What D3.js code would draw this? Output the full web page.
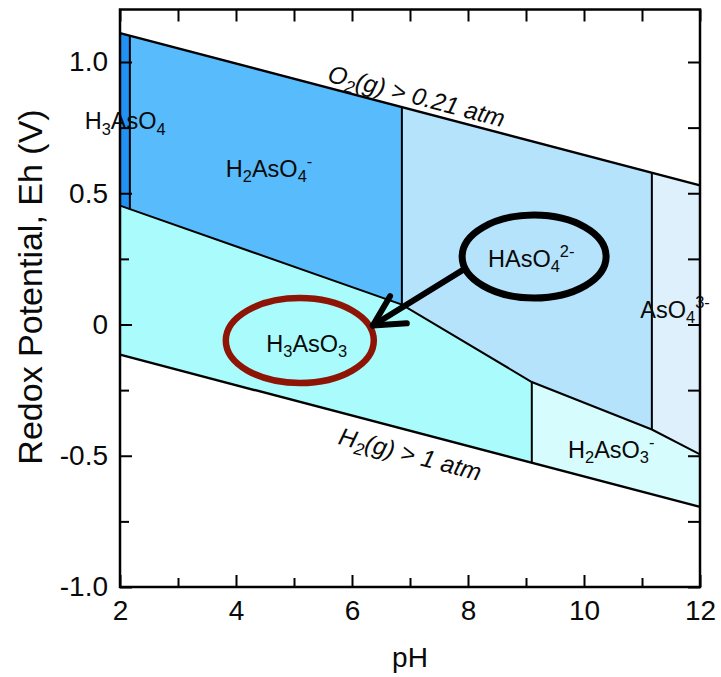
<!DOCTYPE html>
<html>
<head>
<meta charset="utf-8">
<script src="https://cdn.jsdelivr.net/npm/d3@7"></script>
<style>
  body { margin: 0; background: #fff; }
  svg { display: block; font-family: "Liberation Sans", Arial, Helvetica, sans-serif; }
</style>
</head>
<body>
<svg id="chart" width="721" height="677"></svg>
<script>
// Eh-pH diagram for arsenic species

// water stability limits, [pH, Eh]
var o2Line = [[2, 1.11], [12, 0.53]];
var h2Line = [[2, -0.115], [12, -0.695]];

// As(V) / As(III) boundary, [pH, Eh]
var redoxBoundary = [[2, 0.453], [6.86, 0.076], [9.10, -0.219], [11.17, -0.400], [12, -0.495]];

// acid-base boundaries (pH)
var arsenateBreaks = [2.17, 6.86, 11.17];
var arseniteBreaks = [9.10];

var phTicks = [2, 4, 6, 8, 10, 12];
var phMinorTicks = [3, 5, 7, 9, 11];
var ehTicks = [-1.0, -0.5, 0, 0.5, 1.0];
var ehTickLabels = ["-1.0", "-0.5", "0", "0.5", "1.0"];
var ehMinorTicks = [-0.75, -0.25, 0.25, 0.75];

// species: name markup, label centre [pH, Eh baseline]
var species = [
  {name: "H_3AsO_4", ph: 2.09, eh: 0.743},
  {name: "H_2AsO_4^-", ph: 4.57, eh: 0.562},
  {name: "HAsO_4^2-", ph: 9.09, eh: 0.219},
  {name: "AsO_4^3-", ph: 11.57, eh: 0.025},
  {name: "H_3AsO_3", ph: 5.22, eh: -0.105},
  {name: "H_2AsO_3^-", ph: 10.47, eh: -0.509}
];

var regionColors = {
  "H3AsO4": "#2291f4",
  "H2AsO4-": "#58bcfc",
  "HAsO42-": "#b4e3fb",
  "AsO43-": "#def0fc",
  "H3AsO3": "#aafcfc",
  "H2AsO3-": "#d7fcfd"
};

// highlight annotations [pH, Eh]
var blackRing = {ph: 9.14, eh: 0.259};
var redRing = {ph: 5.10, eh: -0.061};
var arrowFrom = [7.90, 0.206];
var arrowTo = [6.36, -0.004];

var margin = {top: 9.5, right: 21, bottom: 90, left: 120};
var width = 721, height = 677;

var x = d3.scaleLinear().domain([2, 12]).range([margin.left, width - margin.right]);
var y = d3.scaleLinear().domain([-1.0, 1.2]).range([587, margin.top]);

var svg = d3.select("#chart");

// linear interpolation along a polyline of [pH, Eh]
function along(pts, ph) {
  for (var i = 0; i < pts.length - 1; i++) {
    var a = pts[i], b = pts[i + 1];
    if (ph >= a[0] && ph <= b[0]) {
      return a[1] + (b[1] - a[1]) * (ph - a[0]) / (b[0] - a[0]);
    }
  }
  return pts[pts.length - 1][1];
}

function boundarySection(p0, p1) {
  var pts = [[p0, along(redoxBoundary, p0)]];
  redoxBoundary.forEach(function(d) { if (d[0] > p0 && d[0] < p1) pts.push(d); });
  pts.push([p1, along(redoxBoundary, p1)]);
  return pts;
}

// polygon for an As(V) region (between O2 line and redox boundary)
function upperRegion(p0, p1) {
  var top = [[p0, along(o2Line, p0)], [p1, along(o2Line, p1)]];
  return top.concat(boundarySection(p0, p1).reverse());
}
// polygon for an As(III) region (between redox boundary and H2 line)
function lowerRegion(p0, p1) {
  var bottom = [[p1, along(h2Line, p1)], [p0, along(h2Line, p0)]];
  return boundarySection(p0, p1).concat(bottom);
}

var regions = [
  {key: "H3AsO4", pts: upperRegion(2, arsenateBreaks[0])},
  {key: "H2AsO4-", pts: upperRegion(arsenateBreaks[0], arsenateBreaks[1])},
  {key: "HAsO42-", pts: upperRegion(arsenateBreaks[1], arsenateBreaks[2])},
  {key: "AsO43-", pts: upperRegion(arsenateBreaks[2], 12)},
  {key: "H3AsO3", pts: lowerRegion(2, arseniteBreaks[0])},
  {key: "H2AsO3-", pts: lowerRegion(arseniteBreaks[0], 12)}
];

var line = d3.line().x(function(d) { return x(d[0]); }).y(function(d) { return y(d[1]); });

svg.append("g").selectAll("path")
  .data(regions)
  .enter().append("path")
  .attr("d", function(d) { return line(d.pts) + "Z"; })
  .attr("fill", function(d) { return regionColors[d.key]; })
  .attr("stroke", "none");

// boundary lines
var lines = svg.append("g").attr("fill", "none").attr("stroke", "#000").attr("stroke-width", 2);
lines.append("path").attr("d", line(o2Line)).attr("stroke-width", 2.4);
lines.append("path").attr("d", line(h2Line)).attr("stroke-width", 2.4);
lines.append("path").attr("d", line(redoxBoundary));
arsenateBreaks.forEach(function(p) {
  lines.append("path").attr("d", line([[p, along(o2Line, p)], [p, along(redoxBoundary, p)]]));
});
arseniteBreaks.forEach(function(p) {
  lines.append("path").attr("d", line([[p, along(redoxBoundary, p)], [p, along(h2Line, p)]]));
});

// rich text with sub/superscripts: "_x" subscript, "^xx" superscript
function richText(sel, markup, fs) {
  var parts = markup.match(/_[^_^]|\^[^_^]+|[^_^]+/g);
  var offset = 0;
  parts.forEach(function(p) {
    var kind = p[0] === "_" ? "sub" : p[0] === "^" ? "sup" : "base";
    var txt = kind === "base" ? p : p.slice(1);
    var target = kind === "sub" ? 0.22 * fs : kind === "sup" ? -0.42 * fs : 0;
    sel.append("tspan")
      .attr("dy", target - offset)
      .style("font-size", (kind === "base" ? fs : fs * 0.7) + "px")
      .text(txt);
    offset = target;
  });
}

var labelG = svg.append("g").attr("fill", "#0a0a0a");
species.forEach(function(s) {
  var t = labelG.append("text")
    .attr("x", x(s.ph))
    .attr("y", y(s.eh))
    .attr("text-anchor", "middle");
  richText(t, s.name, 23.5);
});

// gas limit labels along lines
function lineLabel(pts, ph, offset, markup) {
  var ang = Math.atan2(y(pts[1][1]) - y(pts[0][1]), x(pts[1][0]) - x(pts[0][0]));
  var px = x(ph) - Math.sin(ang) * offset;
  var py = y(along(pts, ph)) + Math.cos(ang) * offset;
  var t = svg.append("text")
    .attr("transform", "translate(" + px + "," + py + ") rotate(" + (ang * 180 / Math.PI) + ")")
    .attr("text-anchor", "middle")
    .style("font-style", "italic")
    .attr("fill", "#0a0a0a");
  richText(t, markup, 24.5);
}
lineLabel(o2Line, 7.05, -6, "O_2(g) > 0.21 atm");
lineLabel(h2Line, 7.1, 31, "H_2(g) > 1 atm");

// annotations
svg.append("ellipse")
  .attr("cx", x(blackRing.ph)).attr("cy", y(blackRing.eh))
  .attr("rx", 72).attr("ry", 41.5)
  .attr("fill", "none").attr("stroke", "#000").attr("stroke-width", 7);

svg.append("ellipse")
  .attr("cx", x(redRing.ph)).attr("cy", y(redRing.eh))
  .attr("rx", 74).attr("ry", 42.5)
  .attr("fill", "none").attr("stroke", "#8e1506").attr("stroke-width", 6.5);

var ax = x(arrowFrom[0]), ay = y(arrowFrom[1]);
var bx = x(arrowTo[0]), by = y(arrowTo[1]);
var back = Math.atan2(ay - by, ax - bx);
var headLen = 34, headAng = 28 * Math.PI / 180;
var arrow = svg.append("g").attr("stroke", "#000").attr("stroke-width", 6)
  .attr("stroke-linecap", "round").attr("stroke-linejoin", "round").attr("fill", "none");
arrow.append("line").attr("x1", ax).attr("y1", ay).attr("x2", bx).attr("y2", by);
arrow.append("path").attr("d",
  "M" + (bx + headLen * Math.cos(back - headAng)) + "," + (by + headLen * Math.sin(back - headAng)) +
  "L" + bx + "," + by +
  "L" + (bx + headLen * Math.cos(back + headAng)) + "," + (by + headLen * Math.sin(back + headAng)));

// axes with inward ticks
function styleAxis(g) {
  g.select(".domain").remove();
  g.selectAll(".tick line").attr("stroke", "#000").attr("stroke-width", 2);
  g.selectAll(".tick text").attr("fill", "#0a0a0a").style("font-size", "28px")
    .style("font-family", "'Liberation Sans', Arial, sans-serif");
}

var yBottom = y(-1.0), yTop = y(1.2);
var xLeft = x(2), xRight = x(12);

svg.append("g").attr("transform", "translate(0," + yBottom + ")")
  .call(d3.axisBottom(x).tickValues(phTicks).tickSize(-12).tickPadding(13).tickFormat(d3.format("d")))
  .call(styleAxis);
svg.append("g").attr("transform", "translate(0," + yBottom + ")")
  .call(d3.axisBottom(x).tickValues(phMinorTicks).tickSize(-9).tickFormat(""))
  .call(styleAxis);
svg.append("g").attr("transform", "translate(0," + yTop + ")")
  .call(d3.axisTop(x).tickValues(phTicks.concat(phMinorTicks)).tickSize(-12).tickFormat(""))
  .call(styleAxis);

svg.append("g").attr("transform", "translate(" + xLeft + ",0)")
  .call(d3.axisLeft(y).tickValues(ehTicks).tickSize(-12).tickPadding(12)
    .tickFormat(function(d, i) { return ehTickLabels[i]; }))
  .call(styleAxis);
svg.append("g").attr("transform", "translate(" + xLeft + ",0)")
  .call(d3.axisLeft(y).tickValues(ehMinorTicks).tickSize(-9).tickFormat(""))
  .call(styleAxis);
svg.append("g").attr("transform", "translate(" + xRight + ",0)")
  .call(d3.axisRight(y).tickValues(ehTicks.concat(ehMinorTicks)).tickSize(-12).tickFormat(""))
  .call(styleAxis);

// frame
svg.append("rect")
  .attr("x", xLeft).attr("y", yTop)
  .attr("width", xRight - xLeft).attr("height", yBottom - yTop)
  .attr("fill", "none").attr("stroke", "#000").attr("stroke-width", 2.5);

// axis titles
svg.append("text")
  .attr("x", (xLeft + xRight) / 2).attr("y", 667)
  .attr("text-anchor", "middle")
  .style("font-size", "28px").attr("fill", "#0a0a0a")
  .text("pH");

svg.append("text")
  .attr("transform", "translate(42,287) rotate(-90)")
  .attr("text-anchor", "middle")
  .style("font-size", "34px").attr("fill", "#0a0a0a")
  .text("Redox Potential, Eh (V)");
</script>
</body>
</html>
